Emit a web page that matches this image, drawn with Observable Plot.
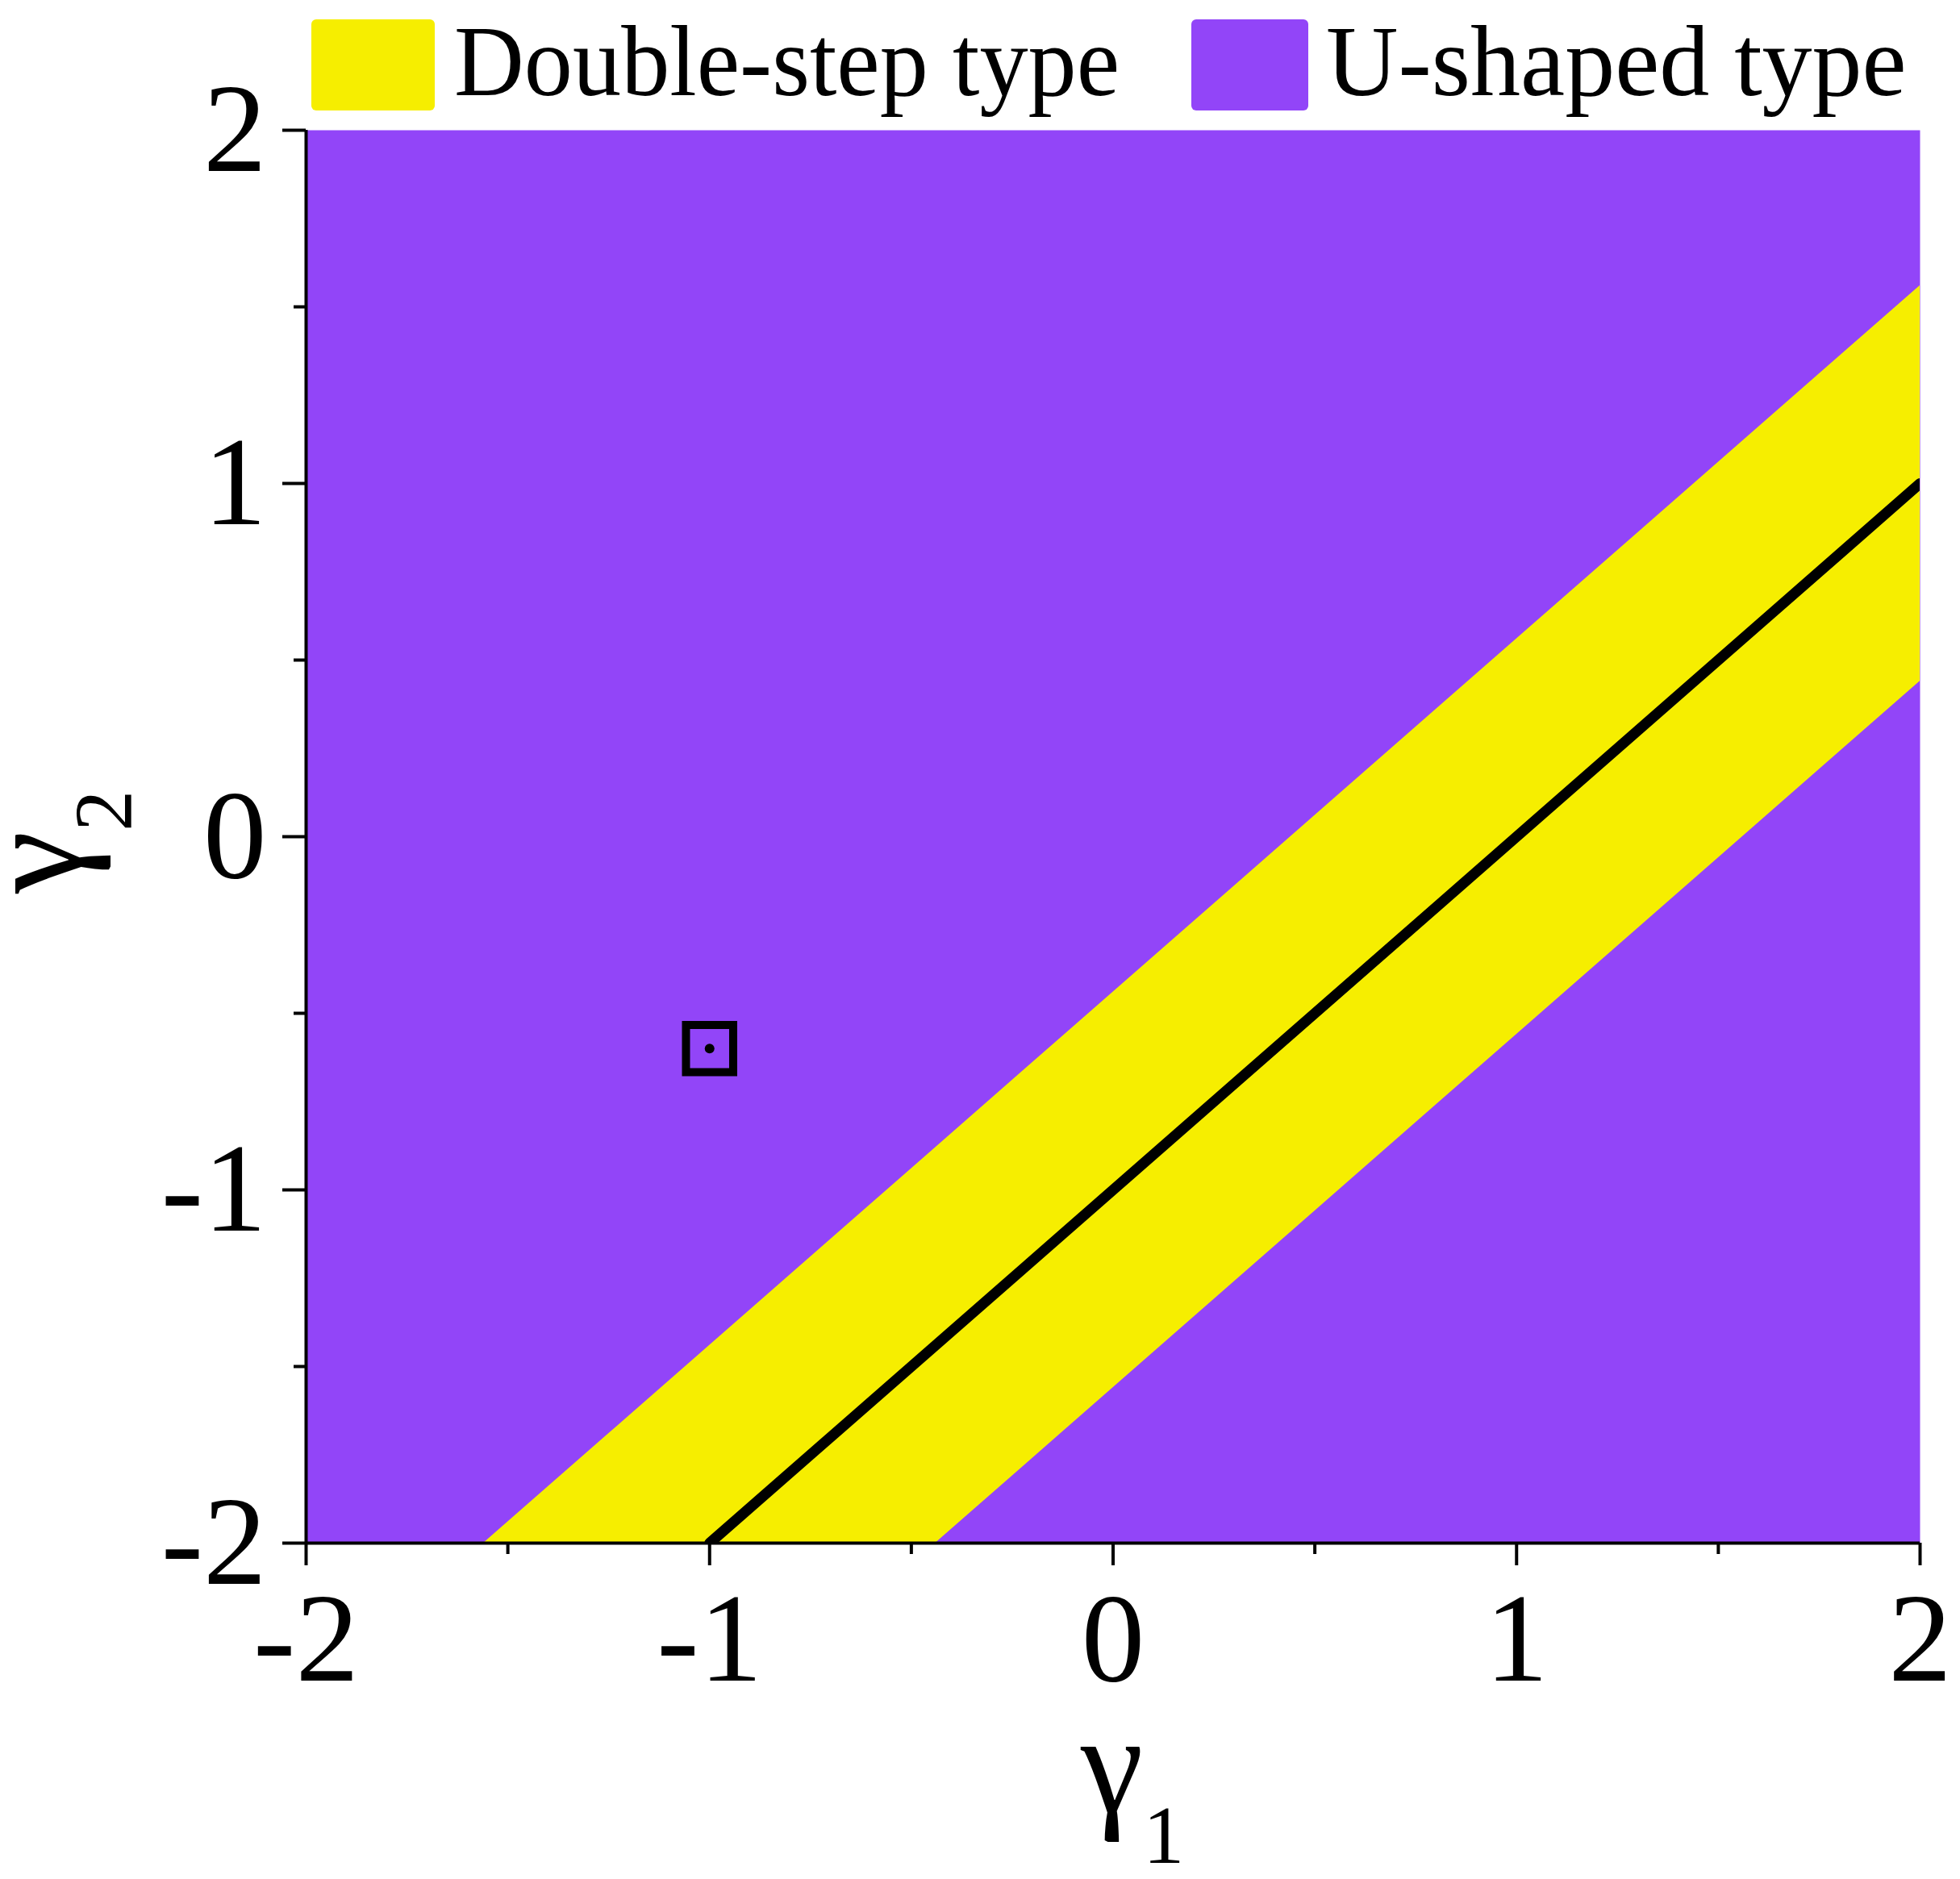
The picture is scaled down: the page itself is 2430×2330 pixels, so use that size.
<!DOCTYPE html>
<html>
<head>
<meta charset="utf-8">
<script src="https://cdn.jsdelivr.net/npm/d3@7"></script>
<script src="https://cdn.jsdelivr.net/npm/@observablehq/plot@0.6"></script>
<style>
  html, body { margin: 0; padding: 0; background: #fff; }
  body { width: 2430px; font-family: "Liberation Serif", "Times New Roman", serif; }
  #legend { position: relative; width: 2430px; height: 150px; }
  .sw { position: absolute; top: 24px; height: 113px; border-radius: 6px; }
  .lt { position: absolute; top: 0; font-size: 124px; line-height: 150px; white-space: nowrap; color: #000; }
  svg { display: block; overflow: visible; }
</style>
</head>
<body>
<div id="legend"></div>
<div id="chart"></div>
<script>
// ---- data ----
const categories = ["Double-step type", "U-shaped type"];
const categoryColors = ["#F6EE00", "#9245F8"];

// yellow (double-step) band: edges vs gamma1
const bandGamma1 = [-1.56, -0.44, 2];
const bandLower  = [-2, -2, 0.44];
const bandUpper  = [-2, -0.88, 1.56];

// black line gamma2 = gamma1 - 1 (endpoints)
const lineGamma1 = [-1, 2];
const lineGamma2 = [-2, 1];

// marked point (square with dot)
const markGamma1 = [-1];
const markGamma2 = [-0.6];

const majorTicks = [-2, -1, 0, 1, 2];
const minorTicks = [-1.5, -0.5, 0.5, 1.5];
const tickLabels = ["-2", "-1", "0", "1", "2"];

// ---- legend ----
const legend = document.getElementById("legend");
const legendLayout = [
  {sw: 386, sww: 153, tx: 563, sx: 0.97},
  {sw: 1477, sww: 145, tx: 1644, sx: 1.0}
];
categories.forEach((c, i) => {
  const s = document.createElement("div");
  s.className = "sw";
  s.style.left = legendLayout[i].sw + "px";
  s.style.width = legendLayout[i].sww + "px";
  s.style.background = categoryColors[i];
  legend.appendChild(s);
  const t = document.createElement("div");
  t.className = "lt";
  t.style.left = legendLayout[i].tx + "px";
  t.style.top = "2px";
  t.style.transformOrigin = "0 0";
  t.style.transform = `scaleX(${legendLayout[i].sx})`;
  t.textContent = c;
  legend.appendChild(t);
});

// ---- chart ----
const band = bandGamma1.map((g, i) => ({g1: g, lo: bandLower[i], hi: bandUpper[i]}));
const line = lineGamma1.map((g, i) => ({g1: g, g2: lineGamma2[i]}));
const mark = markGamma1.map((g, i) => ({g1: g, g2: markGamma2[i]}));
const fmt = d => tickLabels[majorTicks.indexOf(d)];
const font = "Liberation Serif, Times New Roman, serif";

const chart = Plot.plot({
  width: 2430,
  height: 2180,
  marginTop: 11,
  marginLeft: 379,
  marginRight: 50,
  marginBottom: 417,
  style: {fontFamily: font, background: "transparent", color: "#000", overflow: "visible"},
  x: {domain: [-2, 2]},
  y: {domain: [-2, 2]},
  marks: [
    Plot.frame({fill: categoryColors[1], stroke: "none"}),
    Plot.areaY(band, {x: "g1", y1: "lo", y2: "hi", fill: categoryColors[0], clip: true}),
    Plot.line(line, {x: "g1", y: "g2", stroke: "#000", strokeWidth: 13, clip: true}),
    Plot.dot(mark, {x: "g1", y: "g2", symbol: "square", r: 33, stroke: "#000", strokeWidth: 10, fill: "none"}),
    Plot.dot(mark, {x: "g1", y: "g2", r: 6, fill: "#000", stroke: "none"}),
    Plot.ruleY([-2], {stroke: "#000", strokeWidth: 4}),
    Plot.ruleX([-2], {stroke: "#000", strokeWidth: 4}),
    Plot.axisX(majorTicks, {tickSize: 28, tickPadding: 31, fontSize: 157, strokeWidth: 4, tickFormat: fmt, label: null}),
    Plot.axisX(minorTicks, {tickSize: 14, strokeWidth: 4, tickFormat: () => "", label: null}),
    Plot.axisY(majorTicks, {tickSize: 29, tickPadding: 20, fontSize: 157, strokeWidth: 4, tickFormat: fmt, label: null}),
    Plot.axisY(minorTicks, {tickSize: 15, strokeWidth: 4, tickFormat: () => "", label: null})
  ]
});
document.getElementById("chart").appendChild(chart);

// axis titles with subscripts
const svg = d3.select(chart);
const xt = svg.append("text")
  .attr("x", 1340).attr("y", 2097)
  .attr("text-anchor", "start")
  .attr("font-family", font).attr("fill", "#000");
xt.append("tspan").attr("font-size", 175).text("γ");
xt.append("tspan").attr("font-size", 102).attr("dy", 63).text("1");

const yt = svg.append("text")
  .attr("transform", "translate(100,958) rotate(-90)")
  .attr("text-anchor", "start")
  .attr("font-family", font).attr("fill", "#000");
yt.append("tspan").attr("font-size", 175).text("γ");
yt.append("tspan").attr("font-size", 102).attr("dy", 63).text("2");
</script>
</body>
</html>
